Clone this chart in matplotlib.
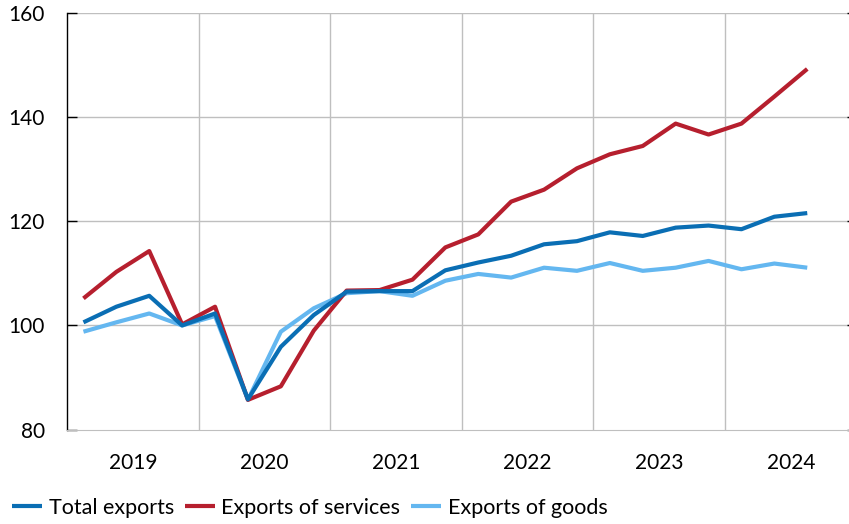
import numpy as np
import matplotlib
matplotlib.use('Agg')
import matplotlib.pyplot as plt

plt.rcParams['font.family'] = ['Lato', 'DejaVu Sans']

# quarterly index, 2019 Q4 = 100, 2019 Q1 .. 2024 Q3
years = ['2019', '2020', '2021', '2022', '2023', '2024']
total = [100.6, 103.6, 105.7, 100.0, 102.3, 85.8, 95.9, 102.0, 106.5, 106.6, 106.6,
         110.6, 112.1, 113.4, 115.6, 116.2, 117.9, 117.2, 118.8, 119.2, 118.5, 120.9, 121.6]
services = [105.2, 110.3, 114.3, 100.2, 103.6, 85.7, 88.3, 99.0, 106.7, 106.8, 108.8,
            115.0, 117.5, 123.8, 126.1, 130.2, 132.9, 134.5, 138.8, 136.7, 138.8, 144.0, 149.3]
goods = [98.8, 100.6, 102.3, 100.0, 101.8, 85.7, 98.8, 103.3, 106.2, 106.6, 105.7,
         108.6, 109.9, 109.2, 111.1, 110.5, 112.0, 110.5, 111.1, 112.4, 110.8, 111.9, 111.1]

W, H = 849, 524
fig = plt.figure(figsize=(W / 100, H / 100), dpi=100)
ax = fig.add_axes([67 / W, 1 - 429.5 / H, (856.6 - 67) / W, (429.5 - 13.3) / H])

x = np.arange(len(total))
grid_c = '#bfbfbf'

# year separators and horizontal grid
for b in np.arange(3.5, 23, 4):
    ax.axvline(b, color=grid_c, lw=1, zorder=1)
for yv in [100, 120, 140, 160]:
    ax.axhline(yv, color=grid_c, lw=1, zorder=1)

ax.plot(x, total, color='#0a6eb4', lw=3, zorder=4, label='Total exports', solid_capstyle='butt')
ax.plot(x, services, color='#b61f2e', lw=3, zorder=3, label='Exports of services', solid_capstyle='butt')
ax.plot(x, goods, color='#64b7f0', lw=3, zorder=2, label='Exports of goods', solid_capstyle='butt')

ax.set_xlim(-0.5, 23.5)
ax.set_ylim(80, 160)
ax.set_yticks([80, 100, 120, 140, 160])
ax.tick_params(axis='y', direction='in', length=7, width=1, pad=16,
               labelsize=15, colors='black', right=True)
ax.set_xticks(np.arange(1.5, 24, 4))
ax.set_xticklabels(years)
ax.tick_params(axis='x', length=0, pad=17, labelsize=15)

ax.spines['top'].set_visible(False)
ax.spines['right'].set_visible(False)
ax.spines['bottom'].set_color(grid_c)
ax.spines['left'].set_color('black')
ax.spines['left'].set_linewidth(1)

fig.legend(loc='center left', bbox_to_anchor=(12 / W, 1 - 508 / H), ncol=3,
           frameon=False, fontsize=15.5, handlelength=1.4, handletextpad=0.3,
           columnspacing=0.5, borderpad=0, borderaxespad=0)

fig.savefig('out.png', dpi=100)
